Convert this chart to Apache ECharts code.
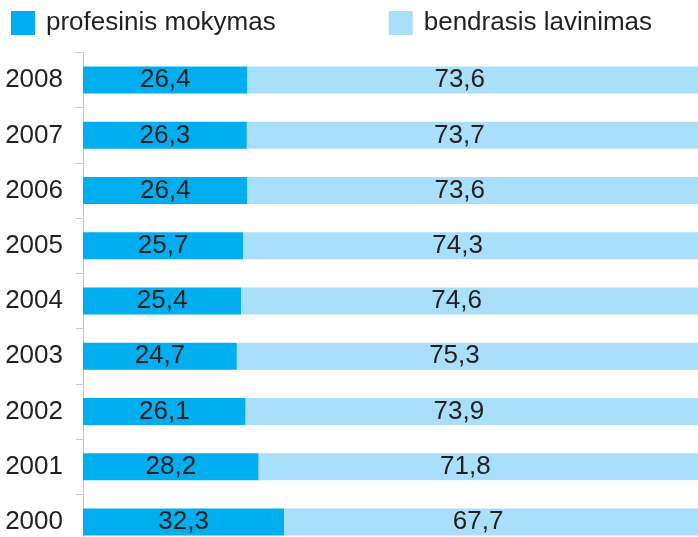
<!DOCTYPE html>
<html><head><meta charset="utf-8">
<script src="https://cdn.jsdelivr.net/npm/echarts@6/dist/echarts.min.js"></script>
<style>html,body{margin:0;padding:0;background:#fff}#c{width:698px;height:537px}</style>
</head><body><div id="c"></div>
<script>
var years = ['2000','2001','2002','2003','2004','2005','2006','2007','2008'];
var profesinis = [32.3, 28.2, 26.1, 24.7, 25.4, 25.7, 26.4, 26.3, 26.4];
var bendrasis = [67.7, 71.8, 73.9, 75.3, 74.6, 74.3, 73.6, 73.7, 73.6];
var seriesNames = ['profesinis mokymas', 'bendrasis lavinimas'];

var chart = echarts.init(document.getElementById('c'), null, {renderer:'canvas'});
var fmt = function(p){ return String(p.value.toFixed(1)).replace('.', ','); };
var font = '"Liberation Sans", Arial, sans-serif';
chart.setOption({
  animation: false,
  textStyle: {fontFamily: font},
  legend: {
    left: 11, top: 10, padding: 0, itemWidth: 24, itemHeight: 24, itemGap: 113,
    icon: 'rect',
    textStyle: {fontSize: 26, color: '#231f20', fontFamily: font, padding: [0,0,0,6]},
    data: seriesNames
  },
  grid: {left: 83, top: 52.5, width: 623, height: 497, containLabel: false, outerBoundsMode: 'none'},
  xAxis: {type: 'value', min: 0, max: 100, show: false},
  yAxis: {
    type: 'category', data: years,
    axisLine: {show: true, lineStyle: {color: '#c8c8c8', width: 1}},
    axisTick: {show: true, length: 7, lineStyle: {color: '#c8c8c8'}},
    axisLabel: {fontSize: 26, color: '#231f20', margin: 20, fontFamily: font}
  },
  series: [
    {name: seriesNames[0], type: 'bar', stack: 't', data: profesinis, barWidth: 27,
     itemStyle: {color: '#00aeef'},
     label: {show: true, position: 'inside', formatter: fmt, fontSize: 26, color: '#231f20', fontFamily: font}},
    {name: seriesNames[1], type: 'bar', stack: 't', data: bendrasis, barWidth: 27,
     itemStyle: {color: '#aadff9'},
     label: {show: true, position: 'inside', offset: [-17, 0], formatter: fmt, fontSize: 26, color: '#231f20', fontFamily: font}}
  ]
});
</script></body></html>
